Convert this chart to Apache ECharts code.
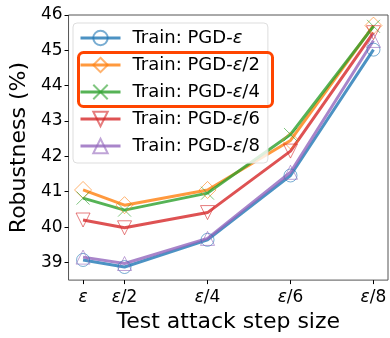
<!DOCTYPE html>
<html><head><meta charset="utf-8">
<script src="https://cdn.jsdelivr.net/npm/echarts@6/dist/echarts.min.js"></script>
<style>html,body{margin:0;padding:0;background:#fff}#c{width:390px;height:338px}</style>
</head><body><div id="c"></div>
<script>
const xValues = [1, 2, 4, 6, 8];
const xTickLabels = ['ε', 'ε/2', 'ε/4', 'ε/6', 'ε/8'];
const yTicks = [39, 40, 41, 42, 43, 44, 45, 46];
const seriesNames = ['Train: PGD-ε', 'Train: PGD-ε/2', 'Train: PGD-ε/4', 'Train: PGD-ε/6', 'Train: PGD-ε/8'];
const trainEps1 = [39.07, 38.87, 39.64, 41.46, 45.02];
const trainEps2 = [41.05, 40.62, 41.05, 42.45, 45.70];
const trainEps4 = [40.82, 40.48, 40.96, 42.62, 45.68];
const trainEps6 = [40.20, 39.98, 40.41, 42.15, 45.50];
const trainEps8 = [39.15, 38.97, 39.68, 41.55, 45.28];

const colors = ['#1f77b4', '#ff7f0e', '#2ca02c', '#d62728', '#9467bd'];
const symbols = ['circle', 'diamond', 'path://M0,0L10,10M10,0L0,10', 'triangle', 'triangle'];
const symRot = [0, 0, 0, 180, 0];
const symSizes = [13, 17, 13, 14, 14];
const allData = [trainEps1, trainEps2, trainEps4, trainEps6, trainEps8];

const FONT = 'DejaVu Sans';
const rich = {
  e: {fontStyle: 'italic', fontFamily: FONT, fontSize: 17, color: '#000'},
  n: {fontFamily: FONT, fontSize: 17, color: '#000'}
};
function epsRich(s, style) {
  const parts = s.split('ε');
  return parts.map((p, i) => (p ? '{' + style + '|' + p + '}' : '') + (i < parts.length - 1 ? '{e|ε}' : '')).join('');
}

const series = allData.map((vals, i) => ({
  name: seriesNames[i],
  type: 'line',
  data: vals.map((v, j) => [xValues[j], v]),
  symbol: symbols[i],
  symbolRotate: symRot[i],
  symbolSize: symSizes[i],
  showAllSymbol: true,
  color: colors[i],
  lineStyle: {width: 3, color: colors[i], opacity: 0.8},
  itemStyle: {color: 'rgba(255,255,255,0)', borderColor: colors[i], borderWidth: 1, opacity: 0.6},
  emphasis: {disabled: true},
  animation: false
}));

const chart = echarts.init(document.getElementById('c'));
chart.setOption({
  animation: false,
  textStyle: {fontFamily: FONT},
  grid: {left: 64, top: 15, right: 2, bottom: 48, show: true, borderColor: '#555', borderWidth: 1, backgroundColor: 'transparent'},
  xAxis: {
    type: 'value', min: 0.65, max: 8.35,
    name: 'Test attack step size', nameLocation: 'middle', nameGap: 30,
    nameTextStyle: {fontFamily: FONT, fontSize: 22, color: '#000'},
    axisLine: {show: false},
    splitLine: {show: false},
    axisTick: {show: true, length: 4, customValues: xValues, lineStyle: {color: '#000'}},
    axisLabel: {customValues: xValues, margin: 9, formatter: v => epsRich(xTickLabels[xValues.indexOf(v)] || '', 'n'), rich: rich}
  },
  yAxis: {
    type: 'value', min: 38.5, max: 46,
    name: 'Robustness (%)', nameLocation: 'middle', nameGap: 26,
    nameTextStyle: {fontFamily: FONT, fontSize: 22, color: '#000'},
    axisLine: {show: false},
    splitLine: {show: false},
    axisTick: {show: true, length: 4, customValues: yTicks, lineStyle: {color: '#000'}},
    axisLabel: {customValues: yTicks, margin: 6, fontFamily: FONT, fontSize: 17, color: '#000'}
  },
  legend: {
    orient: 'vertical', left: 73, top: 23, padding: [6, 8, 8, 6],
    itemGap: 9, itemWidth: 40, itemHeight: 18,
    backgroundColor: 'rgba(255,255,255,0.8)', borderColor: '#ddd', borderWidth: 1, borderRadius: 4,
    lineStyle: {width: 3},
    data: seriesNames,
    formatter: name => '{s|}' + epsRich(name, 'L'),
    textStyle: {fontFamily: FONT, fontSize: 18, color: '#000',
      rich: {s: {width: 7}, L: {fontFamily: FONT, fontSize: 18, color: '#000'}, e: {fontFamily: FONT, fontSize: 18, fontStyle: 'italic', color: '#000'}}}
  },
  graphic: [{
    type: 'rect', left: 76, top: 50, z: 100,
    shape: {width: 194, height: 54, r: 5},
    style: {fill: 'none', stroke: '#ff4500', lineWidth: 3}
  }],
  series: series
});
</script>
</body></html>
